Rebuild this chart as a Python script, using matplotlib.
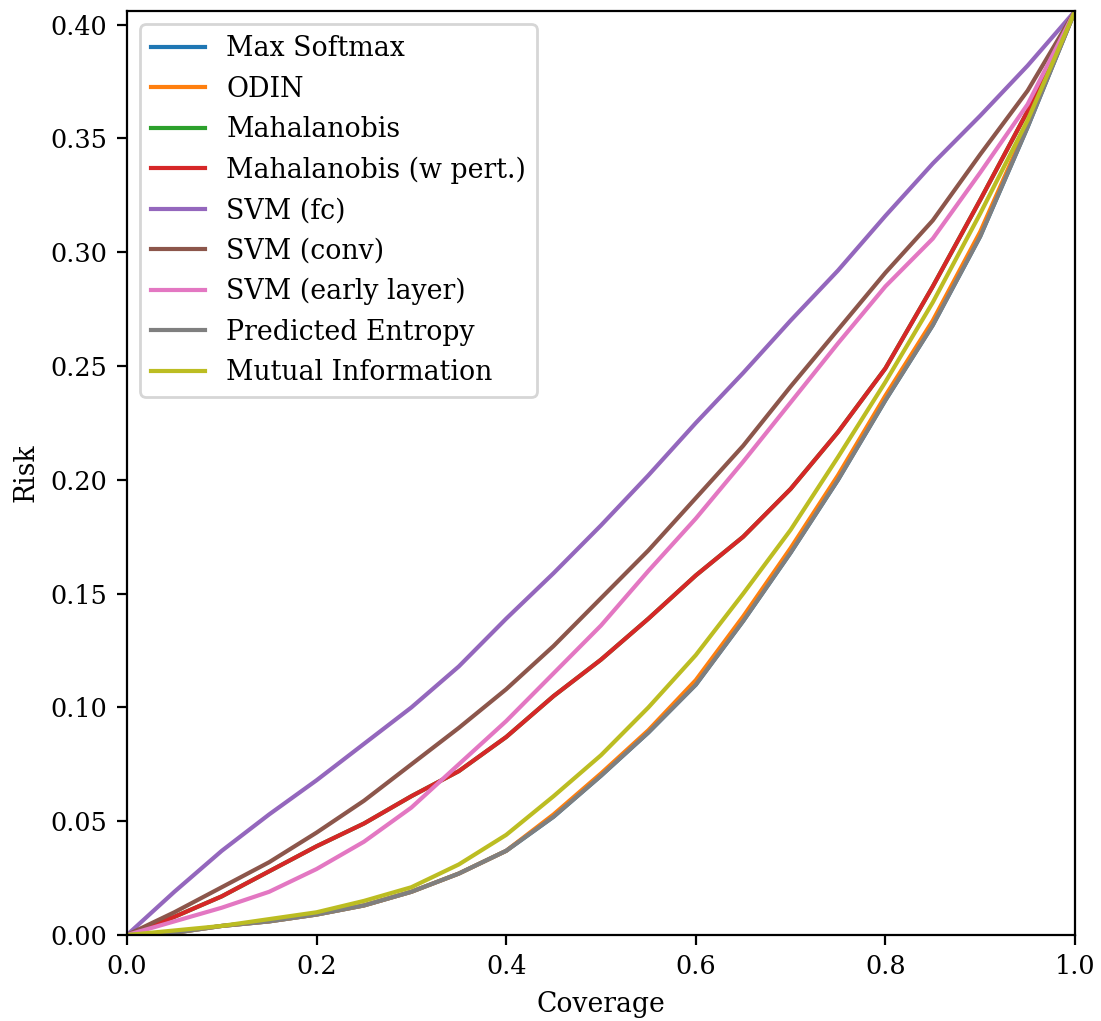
import matplotlib
matplotlib.use("Agg")
import matplotlib.pyplot as plt

plt.rcParams["font.family"] = "DejaVu Serif"

coverage = [0.0, 0.05, 0.1, 0.15, 0.2, 0.25, 0.3, 0.35, 0.4, 0.45, 0.5,
            0.55, 0.6, 0.65, 0.7, 0.75, 0.8, 0.85, 0.9, 0.95, 1.0]

max_softmax = [0.0, 0.001, 0.004, 0.006, 0.009, 0.013, 0.019, 0.027, 0.037, 0.052, 0.070,
               0.089, 0.110, 0.138, 0.168, 0.200, 0.235, 0.268, 0.307, 0.355, 0.406]
odin = [0.0, 0.001, 0.004, 0.006, 0.009, 0.013, 0.019, 0.027, 0.037, 0.053, 0.071,
        0.090, 0.112, 0.140, 0.170, 0.202, 0.237, 0.270, 0.309, 0.356, 0.406]
mahalanobis = [0.0, 0.008, 0.017, 0.028, 0.039, 0.049, 0.061, 0.072, 0.087, 0.105, 0.121,
               0.139, 0.158, 0.175, 0.196, 0.221, 0.249, 0.285, 0.323, 0.362, 0.406]
mahalanobis_pert = [0.0, 0.008, 0.017, 0.028, 0.039, 0.049, 0.061, 0.072, 0.087, 0.105, 0.121,
                    0.139, 0.158, 0.175, 0.196, 0.221, 0.249, 0.285, 0.323, 0.362, 0.406]
svm_fc = [0.0, 0.019, 0.037, 0.053, 0.068, 0.084, 0.100, 0.118, 0.139, 0.159, 0.180,
          0.202, 0.225, 0.247, 0.270, 0.292, 0.316, 0.339, 0.360, 0.382, 0.406]
svm_conv = [0.0, 0.010, 0.021, 0.032, 0.045, 0.059, 0.075, 0.091, 0.108, 0.127, 0.148,
            0.169, 0.192, 0.215, 0.241, 0.266, 0.291, 0.314, 0.343, 0.371, 0.406]
svm_early = [0.0, 0.006, 0.012, 0.019, 0.029, 0.041, 0.056, 0.075, 0.094, 0.115, 0.136,
             0.160, 0.183, 0.208, 0.234, 0.260, 0.285, 0.306, 0.335, 0.365, 0.406]
pred_entropy = [0.0, 0.001, 0.004, 0.006, 0.009, 0.013, 0.019, 0.027, 0.037, 0.052, 0.070,
                0.089, 0.110, 0.138, 0.168, 0.200, 0.235, 0.268, 0.307, 0.355, 0.406]
mutual_info = [0.0, 0.002, 0.004, 0.007, 0.010, 0.015, 0.021, 0.031, 0.044, 0.061, 0.079,
               0.100, 0.123, 0.150, 0.178, 0.210, 0.243, 0.278, 0.317, 0.358, 0.406]

series = [
    ("Max Softmax", max_softmax),
    ("ODIN", odin),
    ("Mahalanobis", mahalanobis),
    ("Mahalanobis (w pert.)", mahalanobis_pert),
    ("SVM (fc)", svm_fc),
    ("SVM (conv)", svm_conv),
    ("SVM (early layer)", svm_early),
    ("Predicted Entropy", pred_entropy),
    ("Mutual Information", mutual_info),
]

fig = plt.figure(figsize=(5.505, 5.105), dpi=200)
ax = fig.add_axes([0.1153, 0.0842, 0.8611, 0.905])

for name, vals in series:
    ax.plot(coverage, vals, label=name, linewidth=1.5)

ax.set_xlim(0, 1)
ax.set_ylim(0, 0.406)
ax.set_yticks([0, 0.05, 0.10, 0.15, 0.20, 0.25, 0.30, 0.35, 0.40])
ax.tick_params(labelsize=9.2)
ax.set_xlabel("Coverage", fontsize=9.6)
ax.set_ylabel("Risk", fontsize=9.6)
ax.legend(loc="upper left", fontsize=9.65)

fig.savefig("out.png", dpi=200)
